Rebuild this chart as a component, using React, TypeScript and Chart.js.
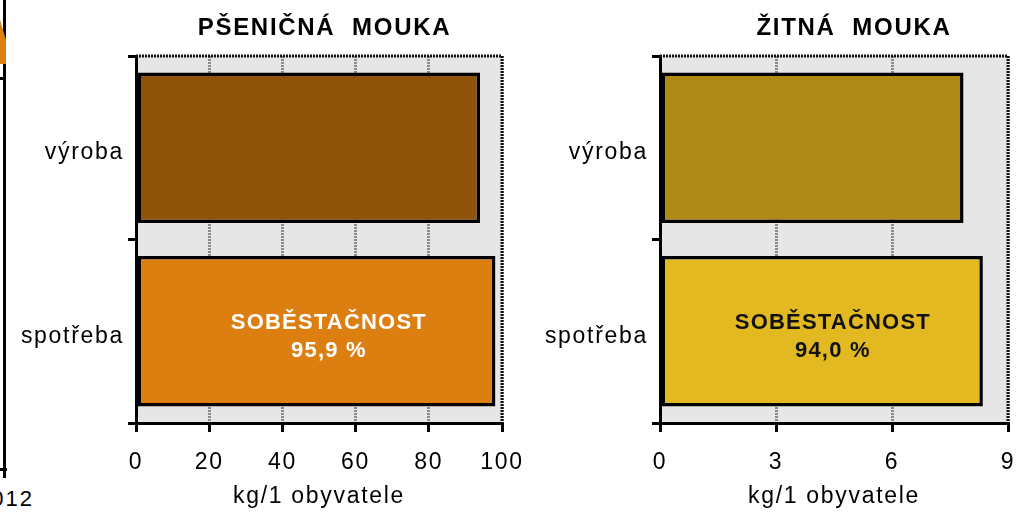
import React, { useEffect, useRef } from "react";
import { Chart, registerables } from "chart.js";

Chart.register(...registerables);

// ---------- data ----------
const categories = ["výroba", "spotřeba"];
const wheatValues = [94.0, 98.2];
const ryeValues = [7.85, 8.35];
const wheatTicks = [0, 20, 40, 60, 80, 100];
const ryeTicks = [0, 3, 6, 9];
const wheatColors = ["#8f530a", "#dc7e10"];
const ryeColors = ["#ad8b16", "#e2b920"];
const wheatTitle = "PŠENIČNÁ  MOUKA";
const ryeTitle = "ŽITNÁ  MOUKA";
const axisTitle = "kg/1 obyvatele";
const selfLabel = "SOBĚSTAČNOST";
const wheatSelf = "95,9 %";
const ryeSelf = "94,0 %";
const fragmentLabel = "2012";

const FONT = "'Liberation Sans', Arial, Helvetica, sans-serif";
const SPACING = "1.7px";

type Spec = {
  values: number[];
  colors: string[];
  ticks: number[];
  title: string;
  pct: string;
  textColor: string;
  labelAt: number;
  left: number;
  width: number;
  plotLeft: number;
  plotRight: number;
};

function makeConfig(s: Spec): any {
  const decor = {
    id: "decor",
    beforeLayout(chart: any) {
      chart.ctx.letterSpacing = SPACING;
    },
    beforeDraw(chart: any) {
      const { ctx, chartArea: a } = chart;
      ctx.letterSpacing = SPACING;
      ctx.save();
      ctx.fillStyle = "#e6e6e6";
      ctx.fillRect(a.left, a.top, a.right - a.left, a.bottom - a.top);
      ctx.restore();
    },
    beforeDatasetsDraw(chart: any) {
      const { ctx, chartArea: a } = chart;
      ctx.save();
      ctx.strokeStyle = "#111";
      ctx.lineWidth = 3;
      ctx.setLineDash([2, 1]);
      ctx.beginPath();
      ctx.moveTo(a.left, a.top);
      ctx.lineTo(a.right, a.top);
      ctx.lineTo(a.right, a.bottom);
      ctx.stroke();
      ctx.restore();
    },
    afterDatasetsDraw(chart: any) {
      const { ctx } = chart;
      const bar = chart.getDatasetMeta(0).data[1];
      const x = chart.scales.x.getPixelForValue(s.labelAt);
      const y = bar.y;
      ctx.save();
      ctx.letterSpacing = "1.2px";
      ctx.font = `bold 22px ${FONT}`;
      ctx.fillStyle = s.textColor;
      ctx.textAlign = "center";
      ctx.textBaseline = "middle";
      ctx.fillText(selfLabel, x, y - 8);
      ctx.fillText(s.pct, x, y + 20);
      ctx.restore();
    },
  };

  return {
    type: "bar",
    data: {
      labels: categories,
      datasets: [
        {
          data: s.values,
          backgroundColor: s.colors,
          borderColor: "#000",
          borderWidth: 3.5,
          borderSkipped: false,
          barPercentage: 0.82,
          categoryPercentage: 1,
        },
      ],
    },
    options: {
      indexAxis: "y",
      responsive: false,
      animation: false,
      devicePixelRatio: 1,
      layout: { padding: 0 },
      plugins: {
        legend: { display: false },
        tooltip: { enabled: false },
        title: {
          display: true,
          text: s.title,
          color: "#000",
          font: { family: FONT, size: 24, weight: "bold" },
          padding: { top: 14, bottom: 13.2 },
        },
      },
      scales: {
        x: {
          type: "linear",
          min: s.ticks[0],
          max: s.ticks[s.ticks.length - 1],
          afterBuildTicks: (sc: any) => {
            sc.ticks = s.ticks.map((v) => ({ value: v }));
          },
          afterFit: (sc: any) => {
            sc.height = 89;
            sc.paddingLeft = 0;
            sc.paddingRight = s.width - (s.plotRight - s.left);
          },
          grid: {
            color: "#8a8a8a",
            lineWidth: 3,
            drawTicks: true,
            tickColor: "#000",
            tickWidth: 3,
            tickLength: 9,
          },
          border: { color: "#000", width: 3, dash: [2, 1] },
          ticks: {
            color: "#000",
            font: { family: FONT, size: 23 },
            padding: 17,
            maxRotation: 0,
            autoSkip: false,
          },
          title: {
            display: true,
            text: axisTitle,
            color: "#000",
            font: { family: FONT, size: 23 },
            padding: { top: 0, bottom: 2 },
          },
        },
        y: {
          type: "category",
          afterFit: (sc: any) => {
            sc.width = s.plotLeft - s.left;
          },
          grid: {
            drawOnChartArea: false,
            color: "#000",
            lineWidth: 3,
            drawTicks: true,
            tickColor: "#000",
            tickWidth: 3,
            tickLength: 8,
          },
          border: { color: "#000", width: 3 },
          ticks: {
            color: "#000",
            font: { family: FONT, size: 23 },
            padding: 4,
            labelOffset: 5,
          },
        },
      },
    },
    plugins: [decor],
  };
}

function BarPanel({ spec }: { spec: Spec }) {
  const ref = useRef<HTMLCanvasElement | null>(null);
  useEffect(() => {
    if (!ref.current) return;
    const chart = new Chart(ref.current, makeConfig(spec));
    return () => chart.destroy();
  }, [spec]);
  return (
    <canvas
      ref={ref}
      width={spec.width}
      height={512}
      style={{ position: "absolute", left: spec.left, top: 0, width: spec.width, height: 512 }}
    />
  );
}

const wheatSpec: Spec = {
  values: wheatValues,
  colors: wheatColors,
  ticks: wheatTicks,
  title: wheatTitle,
  pct: wheatSelf,
  textColor: "#ffffff",
  labelAt: 52.7,
  left: 0,
  width: 649,
  plotLeft: 136,
  plotRight: 502,
};

const ryeSpec: Spec = {
  values: ryeValues,
  colors: ryeColors,
  ticks: ryeTicks,
  title: ryeTitle,
  pct: ryeSelf,
  textColor: "#111111",
  labelAt: 4.47,
  left: 530,
  width: 648,
  plotLeft: 660,
  plotRight: 1008,
};

export default function App() {
  return (
    <div
      style={{
        position: "fixed",
        left: 0,
        top: 0,
        width: 1017,
        height: 512,
        overflow: "hidden",
        background: "#ffffff",
        fontFamily: FONT,
      }}
    >
      {/* fragment of the neighbouring chart, cut off at the left edge */}
      <div style={{ position: "absolute", left: 3, top: 0, width: 3, height: 478, background: "#000" }} />
      <div style={{ position: "absolute", left: 0, top: 77, width: 4, height: 3, background: "#000" }} />
      <div style={{ position: "absolute", left: 0, top: 468, width: 7, height: 3, background: "#000" }} />
      <div
        style={{
          position: "absolute",
          left: 0,
          top: 20,
          width: 6,
          height: 44,
          background: "#dc7e10",
          clipPath: "polygon(0 0, 100% 45%, 100% 100%, 0 100%)",
        }}
      />
      <span
        style={{
          position: "absolute",
          left: -23,
          top: 488,
          fontSize: 22,
          lineHeight: "22px",
          letterSpacing: "2px",
          color: "#000",
          whiteSpace: "nowrap",
        }}
      >
        {fragmentLabel}
      </span>
      <BarPanel spec={wheatSpec} />
      <BarPanel spec={ryeSpec} />
    </div>
  );
}
